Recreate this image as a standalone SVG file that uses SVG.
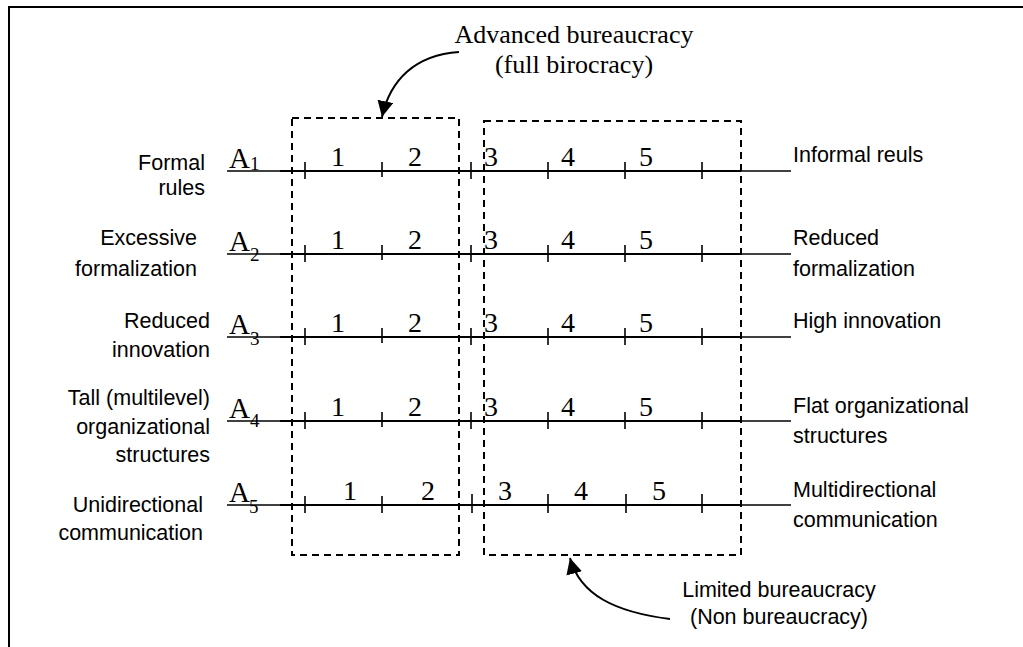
<svg xmlns="http://www.w3.org/2000/svg" width="1023" height="647" viewBox="0 0 1023 647">
  <defs>
    <marker id="head" markerUnits="userSpaceOnUse" markerWidth="18" markerHeight="18" refX="16" refY="8" orient="auto">
      <path d="M0,0 L16,8 L0,16 Z" fill="#000"/>
    </marker>
    <style>
      .frame { fill: none; stroke: #000; stroke-width: 2; }
      .axis { stroke: #000; stroke-width: 1.3; }
      .axis-core { stroke: #000; stroke-width: 2.2; }
      .tick { stroke: #000; stroke-width: 1.6; }
      .zone { fill: none; stroke: #000; stroke-width: 2; stroke-dasharray: 7 5; }
      .num { font-family: "Liberation Serif", "Times New Roman", serif; font-size: 28px; fill: #000; text-anchor: middle; }
      .var { font-family: "Liberation Serif", "Times New Roman", serif; font-size: 29px; fill: #000; }
      .sub { font-family: "Liberation Serif", "Times New Roman", serif; font-size: 19px; fill: #000; }
      .lbl { font-family: "Liberation Sans", Arial, sans-serif; font-size: 21.5px; fill: #000; }
      .left { text-anchor: end; }
      .ttl { font-family: "Liberation Serif", "Times New Roman", serif; font-size: 26px; fill: #000; text-anchor: middle; }
      .cap { font-family: "Liberation Sans", Arial, sans-serif; font-size: 21.5px; fill: #000; text-anchor: middle; }
      .arrow { fill: none; stroke: #000; stroke-width: 2; marker-end: url(#head); }
    </style>
  </defs>

  <rect width="1023" height="647" fill="#fff"/>

  <!-- open frame: left and top edges -->
  <path class="frame" d="M9,647 L9,7 L1023,7"/>

  <!-- zone boxes -->
  <g id="zone-advanced">
    <rect class="zone" x="292" y="118" width="167" height="437"/>
    <text class="ttl" x="574" y="43">Advanced bureaucracy</text>
    <text class="ttl" x="574" y="73">(full birocracy)</text>
  </g>
  <g id="zone-limited">
    <rect class="zone" x="484" y="121" width="257" height="434"/>
    <text class="cap" x="779" y="597">Limited bureaucracy</text>
    <text class="cap" x="779" y="624">(Non bureaucracy)</text>
  </g>

  <!-- scale A1 -->
  <g id="row-a1">
    <line class="axis" x1="227" y1="171" x2="791" y2="171"/>
    <line class="axis-core" x1="280" y1="171" x2="741" y2="171"/>
    <g class="tick">
      <line x1="305" y1="162" x2="305" y2="179"/>
      <line x1="382" y1="162" x2="382" y2="177"/>
      <line x1="471" y1="162" x2="471" y2="179"/>
      <line x1="548" y1="162" x2="548" y2="179"/>
      <line x1="625" y1="162" x2="625" y2="179"/>
      <line x1="702" y1="162" x2="702" y2="179"/>
    </g>
    <text class="var" x="229" y="168">A</text><text class="sub" x="250" y="170">1</text>
    <text class="num" x="338" y="166">1</text>
    <text class="num" x="415" y="166">2</text>
    <text class="num" x="491" y="166">3</text>
    <text class="num" x="568" y="166">4</text>
    <text class="num" x="646" y="166">5</text>
    <text class="lbl left" x="205" y="170">Formal</text>
    <text class="lbl left" x="205" y="195">rules</text>
    <text class="lbl" x="793" y="162">Informal reuls</text>
  </g>

  <!-- scale A2 -->
  <g id="row-a2">
    <line class="axis" x1="227" y1="254" x2="791" y2="254"/>
    <line class="axis-core" x1="280" y1="254" x2="741" y2="254"/>
    <g class="tick">
      <line x1="305" y1="245" x2="305" y2="262"/>
      <line x1="382" y1="245" x2="382" y2="260"/>
      <line x1="471" y1="245" x2="471" y2="262"/>
      <line x1="548" y1="245" x2="548" y2="262"/>
      <line x1="625" y1="245" x2="625" y2="262"/>
      <line x1="702" y1="245" x2="702" y2="262"/>
    </g>
    <text class="var" x="229" y="251">A</text><text class="sub" x="250" y="261">2</text>
    <text class="num" x="338" y="249">1</text>
    <text class="num" x="415" y="249">2</text>
    <text class="num" x="491" y="249">3</text>
    <text class="num" x="568" y="249">4</text>
    <text class="num" x="646" y="249">5</text>
    <text class="lbl left" x="197" y="245">Excessive</text>
    <text class="lbl left" x="197" y="276">formalization</text>
    <text class="lbl" x="793" y="245">Reduced</text>
    <text class="lbl" x="793" y="276">formalization</text>
  </g>

  <!-- scale A3 -->
  <g id="row-a3">
    <line class="axis" x1="227" y1="337" x2="791" y2="337"/>
    <line class="axis-core" x1="280" y1="337" x2="741" y2="337"/>
    <g class="tick">
      <line x1="305" y1="328" x2="305" y2="345"/>
      <line x1="382" y1="328" x2="382" y2="343"/>
      <line x1="471" y1="328" x2="471" y2="345"/>
      <line x1="548" y1="328" x2="548" y2="345"/>
      <line x1="625" y1="328" x2="625" y2="345"/>
      <line x1="702" y1="328" x2="702" y2="345"/>
    </g>
    <text class="var" x="229" y="334">A</text><text class="sub" x="250" y="345">3</text>
    <text class="num" x="338" y="332">1</text>
    <text class="num" x="415" y="332">2</text>
    <text class="num" x="491" y="332">3</text>
    <text class="num" x="568" y="332">4</text>
    <text class="num" x="646" y="332">5</text>
    <text class="lbl left" x="210" y="328">Reduced</text>
    <text class="lbl left" x="210" y="357">innovation</text>
    <text class="lbl" x="793" y="328">High innovation</text>
  </g>

  <!-- scale A4 -->
  <g id="row-a4">
    <line class="axis" x1="227" y1="421" x2="791" y2="421"/>
    <line class="axis-core" x1="280" y1="421" x2="741" y2="421"/>
    <g class="tick">
      <line x1="305" y1="412" x2="305" y2="429"/>
      <line x1="382" y1="412" x2="382" y2="427"/>
      <line x1="471" y1="412" x2="471" y2="429"/>
      <line x1="548" y1="412" x2="548" y2="429"/>
      <line x1="625" y1="412" x2="625" y2="429"/>
      <line x1="702" y1="412" x2="702" y2="429"/>
    </g>
    <text class="var" x="229" y="418">A</text><text class="sub" x="250" y="427">4</text>
    <text class="num" x="338" y="416">1</text>
    <text class="num" x="415" y="416">2</text>
    <text class="num" x="491" y="416">3</text>
    <text class="num" x="568" y="416">4</text>
    <text class="num" x="646" y="416">5</text>
    <text class="lbl left" x="210" y="405">Tall (multilevel)</text>
    <text class="lbl left" x="210" y="434">organizational</text>
    <text class="lbl left" x="210" y="462">structures</text>
    <text class="lbl" x="793" y="413">Flat organizational</text>
    <text class="lbl" x="793" y="443">structures</text>
  </g>

  <!-- scale A5 -->
  <g id="row-a5">
    <line class="axis" x1="227" y1="505" x2="791" y2="505"/>
    <line class="axis-core" x1="280" y1="505" x2="741" y2="505"/>
    <g class="tick">
      <line x1="305" y1="496" x2="305" y2="513"/>
      <line x1="382" y1="496" x2="382" y2="513"/>
      <line x1="472" y1="494" x2="472" y2="513"/>
      <line x1="548" y1="494" x2="548" y2="513"/>
      <line x1="626" y1="494" x2="626" y2="513"/>
      <line x1="702" y1="494" x2="702" y2="513"/>
    </g>
    <text class="var" x="229" y="502">A</text><text class="sub" x="249" y="513">5</text>
    <text class="num" x="350" y="500">1</text>
    <text class="num" x="428" y="500">2</text>
    <text class="num" x="505" y="500">3</text>
    <text class="num" x="581" y="500">4</text>
    <text class="num" x="659" y="500">5</text>
    <text class="lbl left" x="203" y="512">Unidirectional</text>
    <text class="lbl left" x="203" y="540">communication</text>
    <text class="lbl" x="793" y="497">Multidirectional</text>
    <text class="lbl" x="793" y="527">communication</text>
  </g>

  <!-- pointers from captions to zones -->
  <g id="connectors">
    <path class="arrow" d="M459,52 C415,55 390,80 382,117"/>
    <path class="arrow" d="M670,619 C615,612 580,595 570,558"/>
  </g>
</svg>
